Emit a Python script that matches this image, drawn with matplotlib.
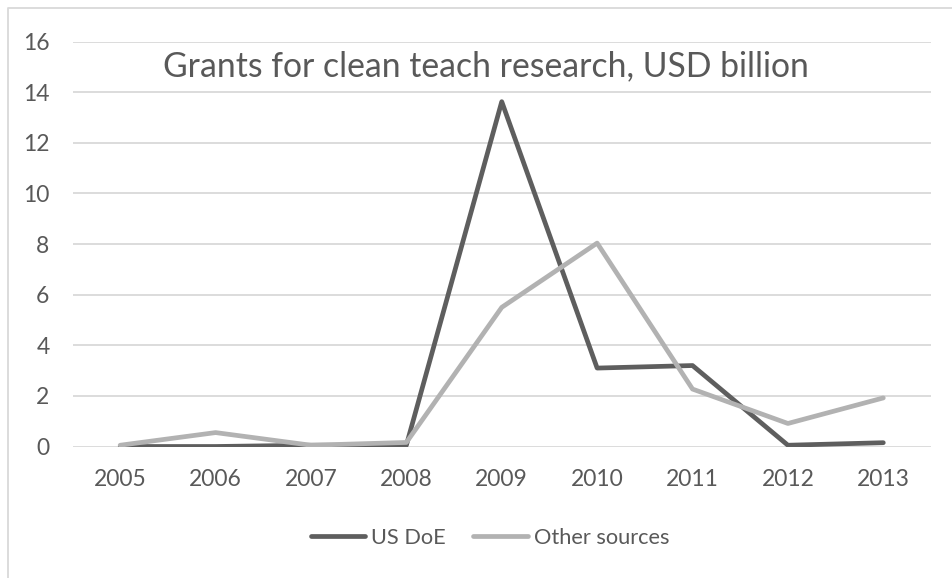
import matplotlib
matplotlib.use("Agg")
import matplotlib.pyplot as plt
from matplotlib.lines import Line2D

plt.rcParams['font.family'] = ['Lato', 'DejaVu Sans']

years = ['2005', '2006', '2007', '2008', '2009', '2010', '2011', '2012', '2013']
us_doe = [0.0, 0.0, 0.05, 0.05, 13.63, 3.1, 3.2, 0.05, 0.15]
other_sources = [0.05, 0.55, 0.05, 0.16, 5.5, 8.04, 2.27, 0.91, 1.92]
yticks = [0, 2, 4, 6, 8, 10, 12, 14, 16]

text_col = '#595959'
grid_col = '#D9D9D9'

W, H = 952, 578
fig = plt.figure(figsize=(W / 100, H / 100), dpi=100)
ax = fig.add_axes([72.5 / W, 1 - 446.5 / H, (931 - 72.5) / W, (446.5 - 41.7) / H])

x = list(range(1, len(years) + 1))
ax.plot(x, us_doe, color='#5E5E5E', lw=3.4, solid_capstyle='round',
        solid_joinstyle='round', label='US DoE', zorder=3)
ax.plot(x, other_sources, color='#B2B2B2', lw=3.4, solid_capstyle='round',
        solid_joinstyle='round', label='Other sources', zorder=3)

ax.set_xlim(0.5, len(years) + 0.5)
ax.set_ylim(0, 16)
ax.set_xticks(x)
ax.set_xticklabels(years)
ax.set_yticks(yticks)
ax.set_yticklabels([str(v) for v in yticks])
ax.tick_params(length=0, labelsize=16.5, colors=text_col)
ax.tick_params(axis='x', pad=16)
ax.tick_params(axis='y', pad=16.5)
for side in ax.spines.values():
    side.set_visible(False)
ax.yaxis.grid(True, color=grid_col, lw=1.3)
ax.set_axisbelow(True)

fig.text(163 / W, 1 - 76 / H, 'Grants for clean teach research, USD billion',
         fontsize=24.3, color=text_col, ha='left', va='baseline')

ax.legend(loc='center', bbox_to_anchor=(490 / W, 1 - 538 / H),
          bbox_transform=fig.transFigure, ncol=2, frameon=False,
          fontsize=15.7, labelcolor=text_col, handlelength=2.5,
          handletextpad=0.28, columnspacing=1.24)

# outer chart border, left and top edges
fig.add_artist(Line2D([8 / W, 8 / W, 1.0], [0.0, 1 - 8 / H, 1 - 8 / H],
                      color=grid_col, lw=1.3, transform=fig.transFigure))

fig.savefig('out.png', dpi=100)
